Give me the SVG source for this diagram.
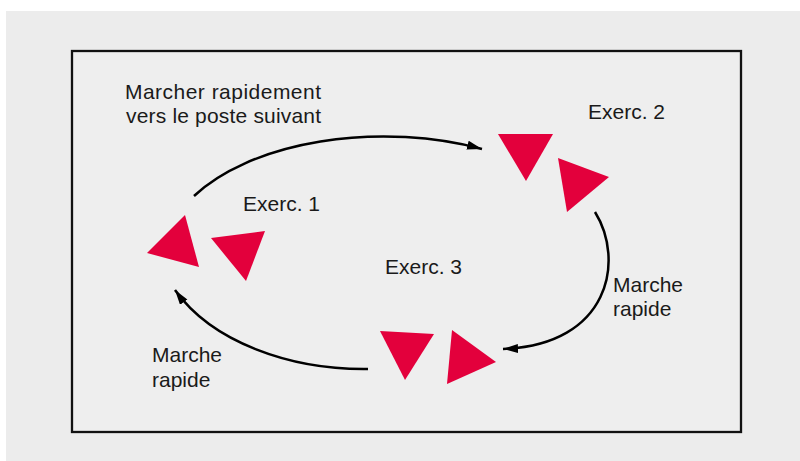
<svg xmlns="http://www.w3.org/2000/svg" width="800" height="461" viewBox="0 0 800 461">
  <style>
    .t { font-family: "Liberation Sans", Arial, sans-serif; font-size: 21px; fill: #1a1a1a; }
    .tri { fill: #e3003c; }
    .arc { fill: none; stroke: #000; stroke-width: 2.5; }
  </style>
  <defs>
    <marker id="ah" markerUnits="userSpaceOnUse" markerWidth="16" markerHeight="10" refX="15" refY="4.5" orient="auto">
      <path d="M0,0 L15,4.5 L0,9 z" fill="#000"/>
    </marker>
  </defs>
  <rect x="0" y="0" width="800" height="461" fill="#ffffff"/>
  <rect x="6" y="11" width="794" height="450" fill="#ececec"/>
  <rect x="72" y="51" width="669" height="381" fill="#eeeeee" stroke="#111" stroke-width="2.3"/>

  <g id="connectors">
    <path class="arc" d="M194,196 A218,117 0 0 1 482,149" marker-end="url(#ah)"/>
    <path class="arc" d="M595,212 C625,260 610,345 503,349" marker-end="url(#ah)"/>
    <path class="arc" d="M368,369 C290,370 212,342 175,290" marker-end="url(#ah)"/>
  </g>

  <g id="station1">
    <polygon class="tri" points="147,253 185,215 199,267"/>
    <polygon class="tri" points="211,238 265,231 246,281"/>
    <text class="t" x="243" y="211">Exerc. 1</text>
  </g>
  <g id="station2">
    <polygon class="tri" points="498,134 553,134 526,181"/>
    <polygon class="tri" points="558,158 609,177 567,212"/>
    <text class="t" x="588" y="119">Exerc. 2</text>
  </g>
  <g id="station3">
    <polygon class="tri" points="380,331 434,334 405,380"/>
    <polygon class="tri" points="452,330 496,362 447,384"/>
    <text class="t" x="385" y="274">Exerc. 3</text>
  </g>

  <g id="label-top">
    <text class="t" x="125" y="99" textLength="196">Marcher rapidement</text>
    <text class="t" x="126" y="123" textLength="195">vers le poste suivant</text>
  </g>
  <g id="label-right">
    <text class="t" x="613" y="292">Marche</text>
    <text class="t" x="613" y="316">rapide</text>
  </g>
  <g id="label-left">
    <text class="t" x="152" y="362">Marche</text>
    <text class="t" x="152" y="387">rapide</text>
  </g>
</svg>
